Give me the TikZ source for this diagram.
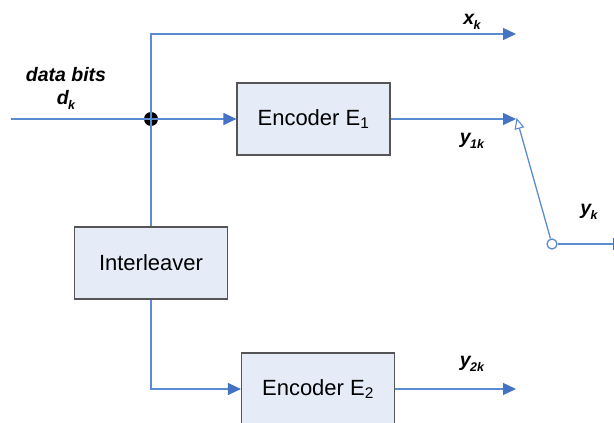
\documentclass[tikz,border=0pt]{standalone}
\usepackage{fontspec}
\setmainfont{Liberation Sans}
\usetikzlibrary{arrows.meta}
\definecolor{wire}{HTML}{5B8BD0}
\definecolor{tipblue}{HTML}{4472C4}
\definecolor{boxfill}{HTML}{E6ECF7}
\definecolor{boxedge}{HTML}{555555}
\newcommand\sublab[2]{#1\kern-0.5pt\raisebox{-0.28em}{\fontsize{12.5}{12.5}\selectfont #2}}
\begin{document}
\begin{tikzpicture}[x=1pt,y=-1pt,
  wireline/.style={draw=wire,line width=1.3pt},
  fwd/.style={wireline,-{Triangle[length=13pt,width=12pt,fill=tipblue,color=tipblue]}},
  block/.style={draw=boxedge,line width=1.2pt,fill=boxfill,minimum width=153pt,
    minimum height=72pt,inner sep=0pt,font=\fontsize{22}{26}\selectfont},
  lab/.style={font=\fontsize{19.5}{22}\selectfont\bfseries\itshape,inner sep=0pt}]
\useasboundingbox (0,0) rectangle (614,423);

% blocks
\node[block] (E1) at (313.5,119) {Encoder E\textsubscript{1}};
\node[block] (IL) at (151,263) {Interleaver};
\node[block] (E2) at (318,389) {Encoder E\textsubscript{2}};

% named points
\coordinate (in) at (11,119);
\coordinate (J) at (151,119);
\coordinate (top) at (151,34);
\coordinate (xk) at (516,34);
\coordinate (y1k) at (516,119);
\coordinate (y2k) at (516,389);
\coordinate (yk) at (626,244);

% junction dot
\fill[black] (J) circle (7pt);

% wires
\draw[wireline] (in) -- (J);
\draw[fwd] (J) -- (E1.west);
\draw[wireline] (J) -- (IL.north);
\draw[fwd] (J) -- (top) -- (xk);
\draw[fwd] (E1.east) -- (y1k);
\draw[fwd] (IL.south) |- (E2.west);
\draw[fwd] (E2.east) -- (y2k);

% output switch
\node[circle,draw=wire,line width=1.3pt,fill=white,minimum size=10pt,inner sep=0pt] (S) at (552,244) {};
\draw[wireline,-{Triangle[open,length=11pt,width=10pt,line width=1.1pt]}] (S) -- ([xshift=0.5pt,yshift=1pt]y1k);
\draw[fwd] (S) -- (yk);

% labels
\node[lab] (db) at (66,75) {data bits};
\node[lab] (dk) at (66,100) {\sublab{d}{k}};
\node[lab] (xklab) at (472,22) {\sublab{x}{k}};
\node[lab] (y1klab) at (472,141) {\sublab{y}{1k}};
\node[lab] (y2klab) at (472,364) {\sublab{y}{2k}};
\node[lab] (yklab) at (589,212) {\sublab{y}{k}};
\end{tikzpicture}
\end{document}
